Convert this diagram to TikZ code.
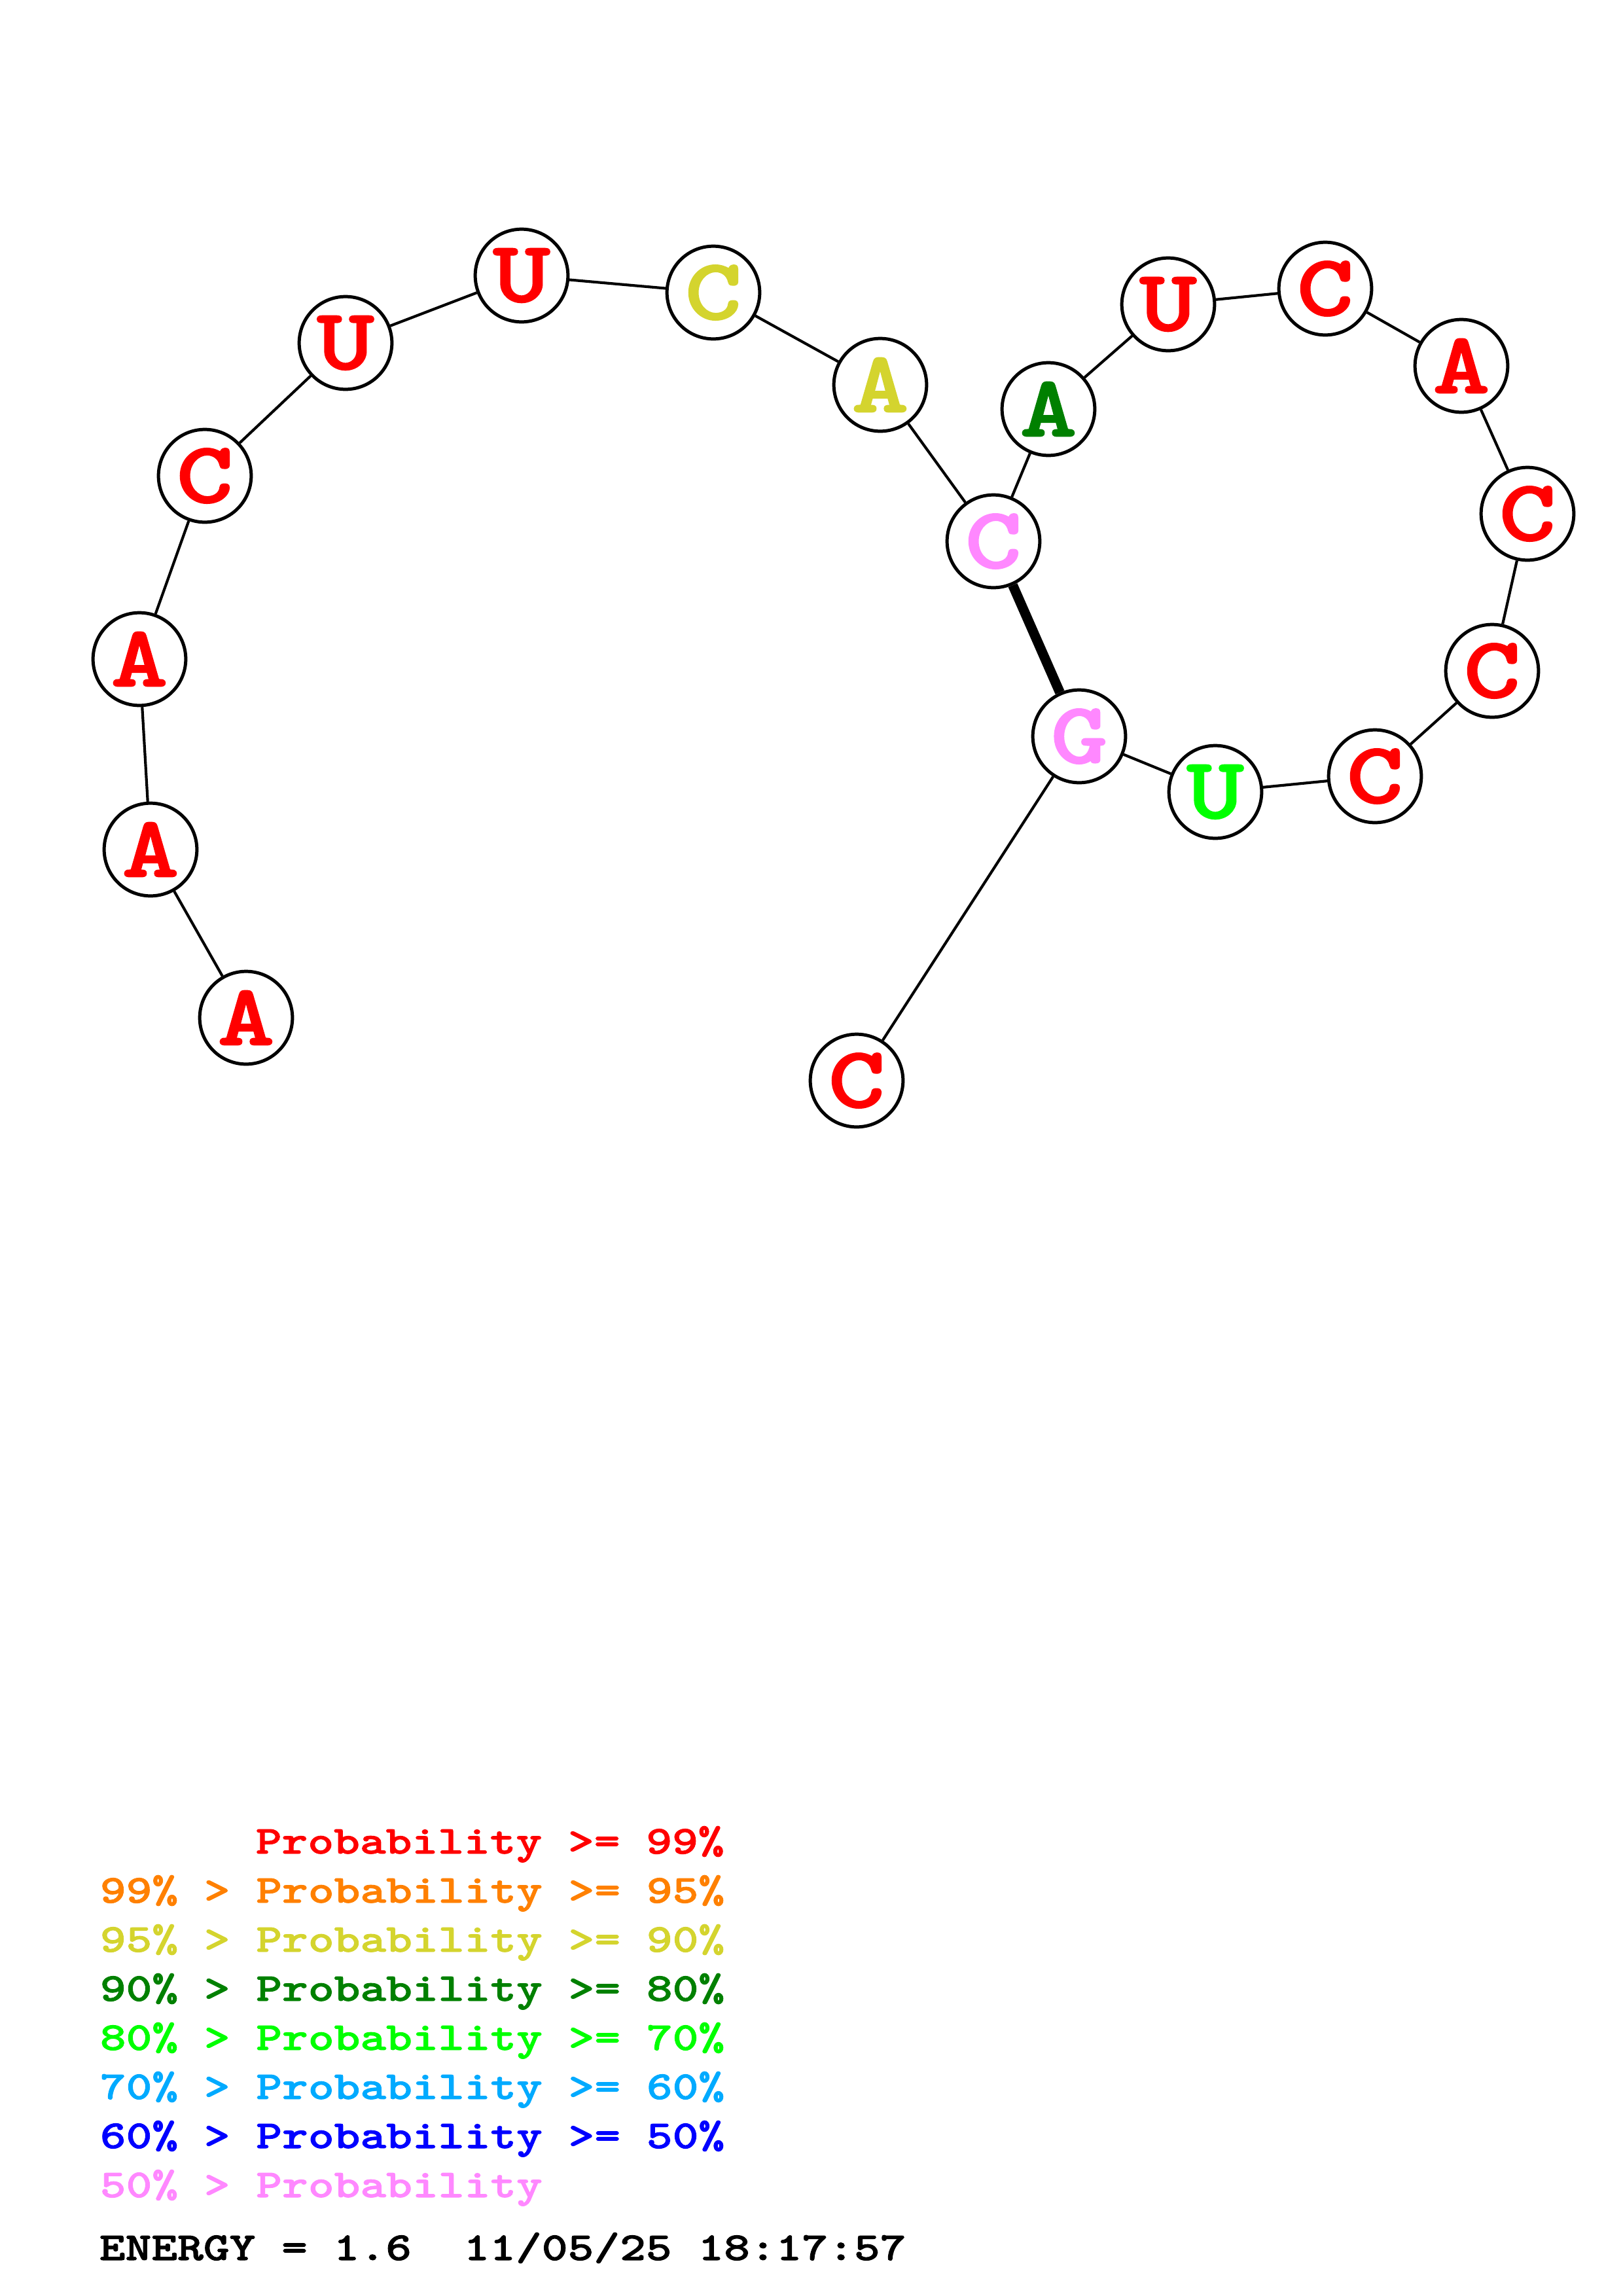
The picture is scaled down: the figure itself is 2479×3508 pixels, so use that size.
\documentclass[tikz,border=0pt]{standalone}
\usepackage{fontspec}
\newfontfamily\basefont{lmmonolt10-bold.otf}[FakeStretch=1.25,FakeBold=1.5]
\definecolor{pr99}{RGB}{255,0,0}
\definecolor{pr95}{RGB}{255,128,0}
\definecolor{pr90}{RGB}{212,212,46}
\definecolor{pr80}{RGB}{0,128,0}
\definecolor{pr70}{RGB}{0,255,0}
\definecolor{pr60}{RGB}{0,170,255}
\definecolor{pr50}{RGB}{0,0,255}
\definecolor{prlow}{RGB}{255,136,255}
\tikzset{
  base/.style={circle,draw,fill=white,line width=1.2pt,minimum size=12mm,inner sep=0pt,
    font=\basefont\fontsize{32}{32}\selectfont},
  bond/.style={line width=1pt},
  pair/.style={line width=3.6pt},
  legend/.style={anchor=base west,inner sep=0pt,font=\basefont\fontsize{14.6}{18}\selectfont}
}
\begin{document}
\begin{tikzpicture}[x=0.008471cm,y=-0.008471cm]
\useasboundingbox (0,0) rectangle (2479,3508);
% bases
\node[base,text=pr99] (n1) at (376,1555) {A};
\node[base,text=pr99] (n2) at (230,1298) {A};
\node[base,text=pr99] (n3) at (213,1007) {A};
\node[base,text=pr99] (n4) at (313,727) {C};
\node[base,text=pr99] (n5) at (528,524) {U};
\node[base,text=pr99] (n6) at (797,421) {U};
\node[base,text=pr90] (n7) at (1090,447) {C};
\node[base,text=pr90] (n8) at (1345,588) {A};
\node[base,text=prlow] (n9) at (1518,827) {C};
\node[base,text=pr80] (n10) at (1602,625) {A};
\node[base,text=pr99] (n11) at (1785,465) {U};
\node[base,text=pr99] (n12) at (2025,441) {C};
\node[base,text=pr99] (n13) at (2233,559) {A};
\node[base,text=pr99] (n14) at (2334,785) {C};
\node[base,text=pr99] (n15) at (2280,1025) {C};
\node[base,text=pr99] (n16) at (2101,1186) {C};
\node[base,text=pr70] (n17) at (1857,1210) {U};
\node[base,text=prlow] (n18) at (1649,1125) {G};
\node[base,text=pr99] (n19) at (1309,1651) {C};
% backbone
\foreach \a/\b in {1/2,2/3,3/4,4/5,5/6,6/7,7/8,8/9,9/10,10/11,11/12,12/13,13/14,14/15,15/16,16/17,17/18,18/19}
  \draw[bond] (n\a) -- (n\b);
% pair
\draw[pair] (n9) -- (n18);
% legend
\node[legend,text=pr99] (leg1) at (390,2832) {Probability >= 99\%};
\node[legend,text=pr95] (leg2) at (152,2907) {99\% > Probability >= 95\%};
\node[legend,text=pr90] (leg3) at (152,2982) {95\% > Probability >= 90\%};
\node[legend,text=pr80] (leg4) at (152,3057) {90\% > Probability >= 80\%};
\node[legend,text=pr70] (leg5) at (152,3132) {80\% > Probability >= 70\%};
\node[legend,text=pr60] (leg6) at (152,3207) {70\% > Probability >= 60\%};
\node[legend,text=pr50] (leg7) at (152,3282) {60\% > Probability >= 50\%};
\node[legend,text=prlow] (leg8) at (152,3357) {50\% > Probability};
\node[legend] (energy) at (151,3453) {ENERGY = 1.6\ \ 11/05/25 18:17:57};
\end{tikzpicture}
\end{document}
